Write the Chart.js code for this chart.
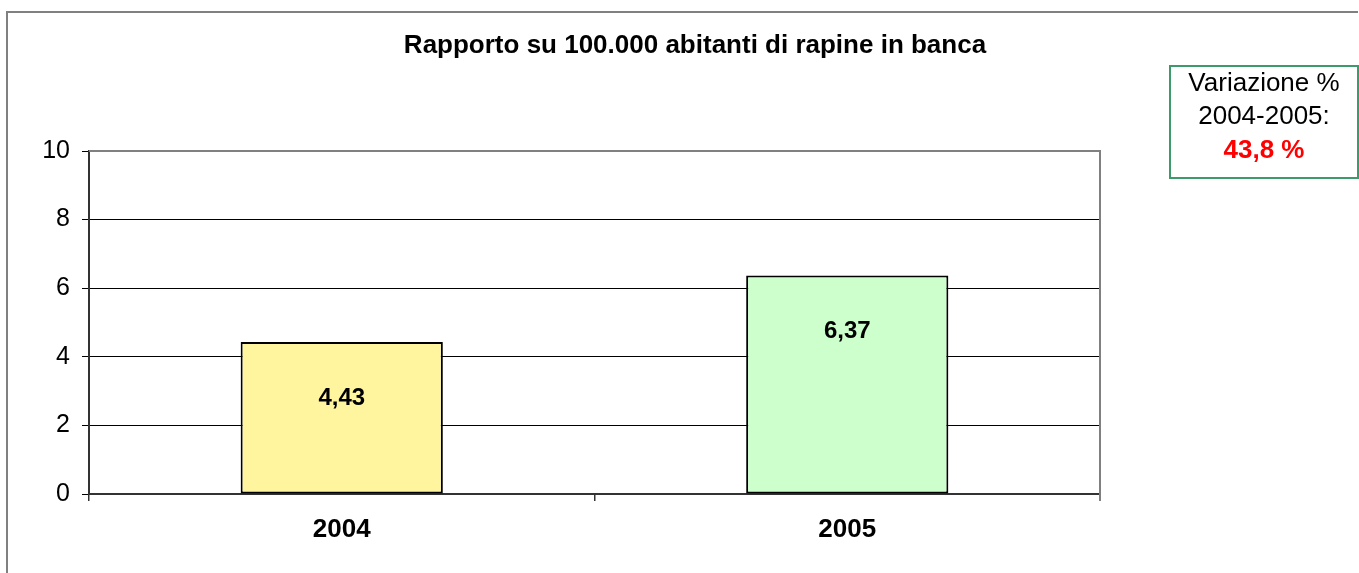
<!DOCTYPE html>
<html>
<head>
<meta charset="utf-8">
<script src="https://cdn.jsdelivr.net/npm/chart.js@4/dist/chart.umd.min.js"></script>
<style>
  body { margin: 0; background: #fff; }
  #wrap { width: 1359px; height: 573px; }
</style>
</head>
<body>
<div id="wrap"><canvas id="chart" width="1359" height="573"></canvas></div>
<script>
// =====================
// Data
// =====================
const years = ["2004", "2005"];
const rates = [4.43, 6.37];
const barColors = ["#FFF59F", "#CCFFCC"];
const yTicks = [0, 2, 4, 6, 8, 10];

const titleText = "Rapporto su 100.000 abitanti di rapine in banca";
const FONT = "'Liberation Sans', Arial, sans-serif";

function fmt(v, d) {
    return v.toFixed(d).replace(".", ",");
}

// =====================
// Extra drawing: frame, title, bar labels, variation box
// =====================
const decorations = {
    id: "decorations",
    afterDraw(chart) {
        const ctx = chart.ctx;
        const area = chart.chartArea;
        ctx.save();

        // outer frame (only top and left show)
        ctx.strokeStyle = "#808080";
        ctx.lineWidth = 2;
        ctx.beginPath();
        ctx.moveTo(7, 573);
        ctx.lineTo(7, 12);
        ctx.lineTo(1358, 12);
        ctx.stroke();

        // plot area border top/right
        ctx.beginPath();
        ctx.moveTo(area.left, area.top);
        ctx.lineTo(area.right, area.top);
        ctx.lineTo(area.right, area.bottom + 7);
        ctx.stroke();

        // title
        ctx.fillStyle = "#000";
        ctx.font = "bold 26px " + FONT;
        ctx.textAlign = "center";
        ctx.textBaseline = "middle";
        ctx.fillText(titleText, 695, 46);

        // bar value labels
        ctx.font = "bold 24px " + FONT;
        chart.getDatasetMeta(0).data.forEach((bar, i) => {
            ctx.fillText(fmt(rates[i], 2), bar.x, bar.y + 56);
        });

        // variation box
        const change = (rates[1] - rates[0]) / rates[0] * 100;
        ctx.strokeStyle = "#3D9A6A";
        ctx.lineWidth = 2;
        ctx.strokeRect(1170, 66, 188, 112);
        ctx.font = "26px " + FONT;
        ctx.fillStyle = "#000";
        ctx.fillText("Variazione %", 1264, 84);
        ctx.fillText(years[0] + "-" + years[1] + ":", 1264, 117);
        ctx.font = "bold 26px " + FONT;
        ctx.fillStyle = "#FF0000";
        ctx.fillText(fmt(change, 1) + " %", 1264, 151);

        ctx.restore();
    }
};

// =====================
// Chart
// =====================
const ctx = document.getElementById("chart").getContext("2d");
new Chart(ctx, {
    type: "bar",
    data: {
        labels: years,
        datasets: [{
            data: rates,
            backgroundColor: barColors,
            borderColor: "#000",
            borderWidth: 2,
            borderSkipped: false,
            barPercentage: 0.4,
            categoryPercentage: 1
        }]
    },
    options: {
        responsive: false,
        animation: false,
        layout: { padding: { top: 151, right: 259, left: 0, bottom: 0 } },
        plugins: {
            legend: { display: false },
            title: { display: false },
            tooltip: { enabled: false }
        },
        scales: {
            x: {
                afterFit(scale) { scale.height = 79; },
                grid: {
                    offset: true,
                    drawOnChartArea: false,
                    tickLength: 7,
                    color: "#333",
                    lineWidth: 1.5
                },
                border: { color: "#333", width: 2 },
                ticks: {
                    color: "#000",
                    padding: 13,
                    font: { family: FONT, size: 26, weight: "bold" }
                }
            },
            y: {
                min: 0,
                max: 10,
                afterFit(scale) { scale.width = 89; },
                afterBuildTicks(scale) { scale.ticks = yTicks.map(v => ({ value: v })); },
                grid: {
                    color: c => c.tick && c.tick.value === 10 ? "#808080" : "#000",
                    tickColor: "#000",
                    tickLength: 7,
                    lineWidth: 1
                },
                border: { color: "#333", width: 2 },
                ticks: {
                    color: "#000",
                    padding: 12,
                    font: { family: FONT, size: 25 }
                }
            }
        }
    },
    plugins: [decorations]
});
</script>
</body>
</html>
